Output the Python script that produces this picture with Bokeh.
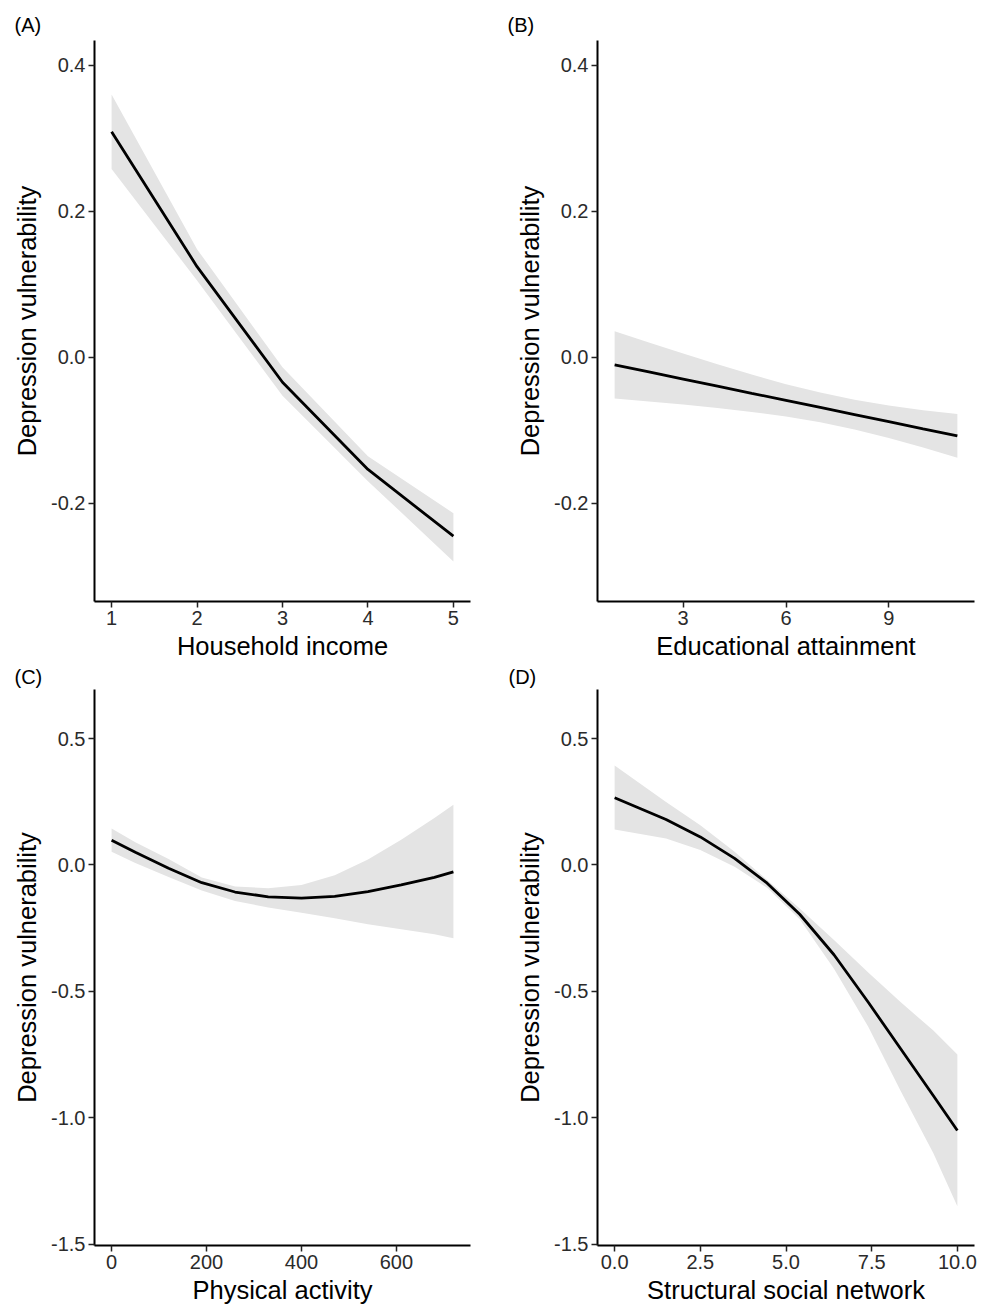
from bokeh.plotting import figure
from bokeh.layouts import gridplot
from bokeh.models import Range1d, FixedTicker, PrintfTickFormatter
from bokeh.embed import file_html
from bokeh.resources import INLINE

# ---------------- data ----------------
# (A) Household income
inc_x = [1, 2, 3, 4, 5]
inc_fit = [0.309, 0.124, -0.0345, -0.154, -0.2455]
inc_hi = [0.360, 0.148, -0.014, -0.136, -0.214]
inc_lo = [0.258, 0.105, -0.053, -0.170, -0.280]

# (B) Educational attainment
edu_x = [1, 2, 3, 4, 5, 6, 7, 8, 9, 10, 11]
edu_fit = [-0.0106, -0.0203, -0.0301, -0.0398, -0.0496, -0.0593, -0.0690, -0.0788, -0.0885, -0.0983, -0.108]
edu_hi = [0.0354, 0.0201, 0.0048, -0.0098, -0.0240, -0.0371, -0.0486, -0.0584, -0.0662, -0.0727, -0.0780]
edu_lo = [-0.0566, -0.0607, -0.0650, -0.0698, -0.0752, -0.0815, -0.0894, -0.0992, -0.1108, -0.1239, -0.1380]

# (C) Physical activity
pa_x = [0, 50, 120, 190, 260, 330, 400, 470, 540, 610, 680, 720]
pa_fit = [0.098, 0.050, -0.013, -0.070, -0.107, -0.126, -0.131, -0.124, -0.105, -0.079, -0.049, -0.027]
pa_hi = [0.144, 0.090, 0.024, -0.050, -0.085, -0.092, -0.079, -0.041, 0.022, 0.100, 0.186, 0.238]
pa_lo = [0.052, 0.008, -0.048, -0.101, -0.142, -0.168, -0.189, -0.211, -0.234, -0.254, -0.274, -0.290]

# (D) Structural social network
sn_x = [0, 1.5, 2.5, 3.5, 4.45, 5.4, 6.4, 7.4, 8.35, 9.3, 10]
sn_fit = [0.266, 0.180, 0.111, 0.026, -0.072, -0.195, -0.355, -0.543, -0.728, -0.913, -1.050]
sn_hi = [0.393, 0.249, 0.157, 0.052, -0.059, -0.172, -0.297, -0.425, -0.543, -0.655, -0.750]
sn_lo = [0.140, 0.105, 0.059, -0.007, -0.090, -0.215, -0.410, -0.640, -0.895, -1.140, -1.350]

y_title = "Depression vulnerability"
x_titles = ["Household income", "Educational attainment", "Physical activity", "Structural social network"]
tags = ["(A)", "(B)", "(C)", "(D)"]

ticks_a_x = [1, 2, 3, 4, 5]
ticks_b_x = [3, 6, 9]
ticks_c_x = [0, 200, 400, 600]
ticks_d_x = [0, 2.5, 5, 7.5, 10]
ticks_top_y = [-0.2, 0.0, 0.2, 0.4]
ticks_bot_y = [-1.5, -1.0, -0.5, 0.0, 0.5]

FONT = "Liberation Sans"


def make_panel(tag, xlab, x, fit, lo, hi, xr, yr, xticks, yticks, xfmt,
               width, height, bl, br, bt, bb, tag_offset, tag_standoff):
    p = figure(width=width, height=height,
               x_range=Range1d(*xr), y_range=Range1d(*yr),
               output_backend="svg", toolbar_location=None,
               min_border_left=bl, min_border_right=br,
               min_border_top=bt, min_border_bottom=bb)
    p.varea(x=x, y1=lo, y2=hi, fill_color="#e4e4e4")
    p.line(x, fit, line_color="black", line_width=2.8)

    p.title.text = tag
    p.title.align = "left"
    p.title.offset = tag_offset
    p.title.standoff = tag_standoff
    p.title.text_font = FONT
    p.title.text_font_size = "20px"
    p.title.text_font_style = "normal"
    p.title.text_color = "black"

    p.xaxis.ticker = FixedTicker(ticks=xticks)
    p.yaxis.ticker = FixedTicker(ticks=yticks)
    p.yaxis.formatter = PrintfTickFormatter(format="%.1f")
    if xfmt:
        p.xaxis.formatter = PrintfTickFormatter(format=xfmt)
    p.xaxis.axis_label = xlab
    p.yaxis.axis_label = y_title
    for ax in (p.xaxis, p.yaxis):
        ax.axis_line_color = "black"
        ax.axis_line_width = 2
        ax.major_tick_line_color = "#222222"
        ax.major_tick_line_width = 1.5
        ax.major_tick_out = 6
        ax.major_tick_in = 0
        ax.minor_tick_out = 0
        ax.minor_tick_in = 0
        ax.major_label_text_font = FONT
        ax.major_label_text_font_size = "20px"
        ax.major_label_text_color = "#2b2b2b"
        ax.major_label_standoff = 3
        ax.axis_label_text_font = FONT
        ax.axis_label_text_font_size = "25.5px"
        ax.axis_label_text_font_style = "normal"
        ax.axis_label_text_color = "black"
    p.xaxis.axis_label_standoff = 4
    p.yaxis.axis_label_standoff = 7
    p.grid.visible = False
    p.outline_line_color = None
    p.background_fill_color = "white"
    p.border_fill_color = "white"
    return p


top_yr = (-0.335, 0.434)
bot_yr = (-1.505, 0.694)

pA = make_panel(tags[0], x_titles[0], inc_x, inc_fit, inc_lo, inc_hi, (0.8, 5.2), top_yr,
                ticks_a_x, ticks_top_y, None, 490, 662, 94, 20, 40, 10, -80, 9)
pB = make_panel(tags[1], x_titles[1], edu_x, edu_fit, edu_lo, edu_hi, (0.5, 11.5), top_yr,
                ticks_b_x, ticks_top_y, None, 488, 662, 107, 4, 40, 10, -90, 9)
pC = make_panel(tags[2], x_titles[2], pa_x, pa_fit, pa_lo, pa_hi, (-36, 756), bot_yr,
                ticks_c_x, ticks_bot_y, None, 490, 644, 94, 20, 26, 10, -80, 3)
pD = make_panel(tags[3], x_titles[3], sn_x, sn_fit, sn_lo, sn_hi, (-0.5, 10.5), bot_yr,
                ticks_d_x, ticks_bot_y, "%.1f", 488, 644, 107, 4, 26, 10, -89, 3)

layout = gridplot([[pA, pB], [pC, pD]], toolbar_location=None)

open("out.html", "w").write(file_html(layout, INLINE))
